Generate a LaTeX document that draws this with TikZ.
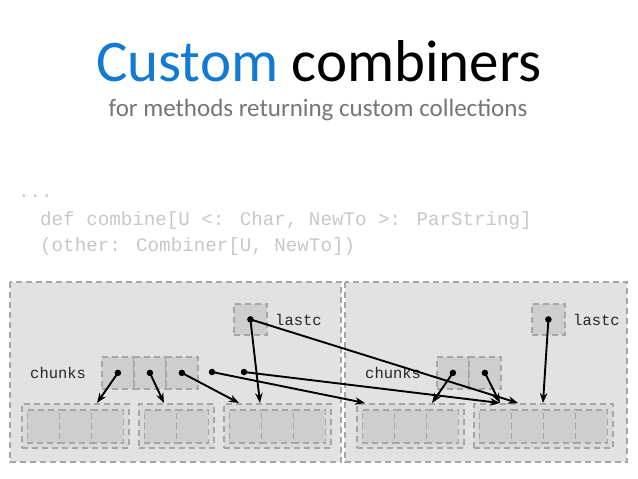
\documentclass[tikz,border=0pt]{standalone}
\usepackage{fontspec}
\setmainfont{Carlito}
\newfontfamily\codefont{Liberation Mono}
\usetikzlibrary{arrows.meta}
\definecolor{titleblue}{RGB}{18,122,208}
\definecolor{subgray}{RGB}{118,118,118}
\definecolor{codegray}{RGB}{200,200,200}
\definecolor{panelgray}{RGB}{226,226,226}
\definecolor{bufgray}{RGB}{218,218,218}
\definecolor{cellgray}{RGB}{206,206,206}
\definecolor{dashgray}{RGB}{166,166,166}
\tikzset{
  panelbox/.style={draw=dashgray,fill=panelgray,line width=1.8pt,
    dash pattern=on 6pt off 4pt},
  bufbox/.style={rectangle,draw=dashgray,fill=bufgray,line width=1.8pt,
    dash pattern=on 6pt off 4pt,minimum width=#1,minimum height=44pt,
    inner sep=0pt,anchor=north west},
  cellbox/.style={rectangle,draw=dashgray,fill=cellgray,line width=1.8pt,
    dash pattern=on 6pt off 4pt,minimum width=32pt,minimum height=#1,
    inner sep=0pt,anchor=north west},
  ptrdot/.style={circle,fill=black,inner sep=0pt,minimum size=6.5pt},
  ptredge/.style={line width=1.9pt,-{Stealth[length=10pt,width=7.5pt]}},
  fieldlabel/.style={font=\codefont\fontsize{15.5}{15.5}\selectfont,
    text=black!85,anchor=base west,inner sep=0pt},
  codeline/.style={font=\codefont\fontsize{19.2}{19.2}\selectfont,
    text=codegray,anchor=base west,inner sep=0pt}
}

\begin{document}
\begin{tikzpicture}[x=1pt,y=-1pt]
  \newcommand{\bufarray}[3]{%
    \node[bufbox={#3*32+11}] (#1) at (#2,403) {};
    \foreach \k in {1,...,#3}
      \node[cellbox=33pt] (#1-\k) at ({#2+5.5+(\k-1)*32},409) {};}

  \fill[white] (0,0) rectangle (638,479);
  \useasboundingbox (0,0) rectangle (638,479);

  % heading
  \node[anchor=base,font=\fontsize{59}{59}\selectfont] (title) at (319,81)
    {\textcolor{titleblue}{Custom} combiners};
  \node[anchor=base,font=\fontsize{25}{25}\selectfont,text=subgray] (subtitle)
    at (318,116) {for methods returning custom collections};

  % signature
  \node[codeline] (code0) at (18,197) {...};
  \node[codeline] (code1) at (40,225) {def combine[U <: Char, NewTo >: ParString]};
  \node[codeline] (code2) at (40,251) {(other: Combiner[U, NewTo])};

  % the two combiners
  \draw[panelbox] (10,282) rectangle (341,462);
  \draw[panelbox] (345,282) rectangle (627,462);

  % left combiner
  \node[cellbox=31pt,minimum width=33pt] (llast) at (233,303) {};
  \node[fieldlabel] (llastlbl) at (275,325) {lastc};
  \foreach \i in {1,2,3}
    \node[cellbox=32pt] (lc\i) at ({101+(\i-1)*32},356) {};
  \coordinate (lc4) at (212,372);
  \coordinate (lc5) at (244,372);
  \node[fieldlabel] (lchunkslbl) at (30,378) {chunks};
  \bufarray{la}{21}{3}
  \bufarray{lb}{138}{2}
  \bufarray{lc}{223}{3}

  % right combiner
  \node[cellbox=31pt,minimum width=33pt] (rlast) at (531,303) {};
  \node[fieldlabel] (rlastlbl) at (573,325) {lastc};
  \foreach \i in {1,2}
    \node[cellbox=32pt] (rc\i) at ({436+(\i-1)*32},356) {};
  \node[fieldlabel] (rchunkslbl) at (365,378) {chunks};
  \bufarray{ra}{356}{3}
  \bufarray{rb}{473}{4}

  % pointers
  \draw[ptredge] (lc1.center) -- ([xshift=76pt]la.north west);
  \draw[ptredge] (lc2.center) -- ([xshift=26pt]lb.north west);
  \draw[ptredge] (lc3.center) -- ([xshift=16pt]lc.north west);
  \draw[ptredge] (lc4) -- ([xshift=9pt]ra.north west);
  \draw[ptredge] (lc5) -- ([xshift=27pt]rb.north west);
  \draw[ptredge] (llast.center) -- ([xshift=37pt]lc.north west);
  \draw[ptredge] (llast.center) -- ([xshift=45pt]rb.north west);
  \draw[ptredge] (rc1.center) -- ([xshift=76pt]ra.north west);
  \draw[ptredge] (rc2.center) -- ([xshift=27pt]rb.north west);
  \draw[ptredge] (rlast.center) -- ([xshift=70pt]rb.north west);
  \foreach \p in {lc1,lc2,lc3,lc4,lc5,llast,rc1,rc2,rlast}
    \node[ptrdot] (dot-\p) at (\p) {};
\end{tikzpicture}
\end{document}
